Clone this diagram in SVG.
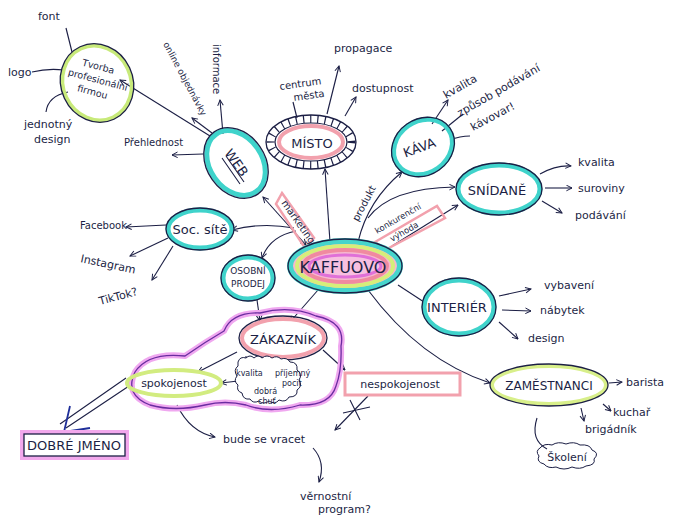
<svg xmlns="http://www.w3.org/2000/svg" width="678" height="518" viewBox="0 0 678 518">
<defs>
<marker id="ah" viewBox="0 0 10 10" refX="9" refY="5" markerWidth="7" markerHeight="7" orient="auto-start-reverse" markerUnits="userSpaceOnUse">
<path d="M1,1 L9,5 L1,9" fill="none" stroke="#1c1f45" stroke-width="1.4"/>
</marker>
<style>
text{font-family:"DejaVu Sans","Liberation Sans",sans-serif;fill:#1c1f45}
.s{font-size:10px}
.m{font-size:11px}
.n{font-size:13px}
.ln{fill:none;stroke:#1c1f45;stroke-width:1.1}
.ar{fill:none;stroke:#1c1f45;stroke-width:1.1;marker-end:url(#ah)}
.cy{fill:none;stroke:#3fd3cb;stroke-width:5}
.bk{fill:none;stroke:#1c1f45;stroke-width:1.3}
</style>
</defs>
<rect width="678" height="518" fill="#ffffff"/>

<g id="connectors">
<path class="ln" d="M66,28 L72,52"/>
<path class="ln" d="M32,72 Q48,68 64,70"/>
<path class="ln" d="M46,112 Q48,96 68,92"/>
<path class="ar" d="M210,136 L120,80"/>
<path class="ar" d="M212,133 L192,118"/>
<path class="ar" d="M223,134 L220,100"/>
<path class="ar" d="M203,154 L172,155"/>
<path class="ln" d="M297,118 L293,102"/>
<path class="ar" d="M327,114 L339,66"/>
<path class="ar" d="M345,116 L356,97"/>
<path class="ar" d="M330,242 L325,169"/>
<path class="ar" d="M432,124 L448,100"/>
<path class="ln" d="M442,131 L463,114"/>
<path class="ln" d="M450,140 Q460,136 470,136"/>
<path class="ar" d="M358,242 Q368,200 402,172"/>
<path class="ar" d="M368,218 Q390,188 455,187"/>
<path class="ar" d="M540,174 Q556,165 571,166"/>
<path class="ar" d="M545,188 L572,188"/>
<path class="ar" d="M542,201 L562,213"/>
<path class="ar" d="M392,246 L458,205"/>
<path class="ar" d="M306,245 L263,197" style="marker-start:url(#ah)"/>
<path class="ar" d="M294,228 Q262,222 232,230"/>
<path class="ar" d="M296,231 Q270,236 262,258"/>
<path class="ar" d="M166,225 L126,227"/>
<path class="ar" d="M168,238 L130,256"/>
<path class="ar" d="M173,246 L152,280"/>
<path class="ar" d="M257,300 L260,321"/>
<path class="ar" d="M318,290 L290,322"/>
<path class="ln" d="M398,285 L424,302"/>
<path class="ar" d="M499,296 L531,289"/>
<path class="ar" d="M502,310 L531,311"/>
<path class="ar" d="M499,322 L518,339"/>
<path class="ar" d="M368,290 Q420,360 490,383"/>
<path class="ar" d="M609,383 L622,382"/>
<path class="ar" d="M603,404 L611,411"/>
<path class="ar" d="M581,408 L584,421"/>
<path class="ln" d="M537,418 Q530,440 547,449"/>
<path class="ar" d="M237,352 L198,372"/>
<path class="ar" d="M246,356 L246,364"/>
<path class="ar" d="M264,357 L261,390"/>
<path class="ar" d="M272,356 L272,368"/>
<path class="ar" d="M238,381 L221,383"/>
<path class="ar" d="M323,350 L345,370"/>
<path fill="none" stroke="#1c1f45" stroke-width="1.1" d="M132,384 L66,428 M126,378 L60,424"/>
<path fill="none" stroke="#1f2f9a" stroke-width="1.8" d="M64,432 L70,406 M64,432 L90,428"/>
<path class="ar" d="M177,405 Q190,432 215,437"/>
<path class="ar" d="M368,396 L335,430"/>
<path class="ln" d="M350,400 L360,420 M343,413 L370,407"/>
<path class="ar" d="M313,448 Q326,462 319,482"/>
</g>

<g id="tvorba">
<ellipse cx="97" cy="83" rx="34" ry="38" transform="rotate(-25 97 83)" fill="none" stroke="#c8ea7a" stroke-width="4"/>
<ellipse cx="97" cy="83" rx="36" ry="40" transform="rotate(-25 97 83)" class="bk"/>
<text transform="rotate(15 97 83)" style="font-size:9.5px"><tspan x="94" y="70" text-anchor="middle">Tvorba</tspan><tspan x="97" y="83" text-anchor="middle">profesionální</tspan><tspan x="95" y="96" text-anchor="middle">firmou</tspan></text>
</g>
<g id="font"><text class="m" x="38" y="20">font</text></g>
<g id="logo"><text class="m" x="8" y="76">logo</text></g>
<g id="jednotny"><text class="m" x="24" y="128">jednotný</text><text class="m" x="34" y="143">design</text></g>

<g id="web">
<ellipse cx="236" cy="163" rx="26" ry="35" transform="rotate(-35 236 163)" class="cy"/>
<ellipse cx="236" cy="163" rx="29" ry="38" transform="rotate(-35 236 163)" class="bk"/>
<text class="n" x="236" y="167" text-anchor="middle" transform="rotate(55 236 163)">WEB</text>
<path class="ln" d="M222,158 L240,184 M226,156 L244,182"/>
</g>
<g id="online"><text x="163" y="44" transform="rotate(62 163 44)" style="font-size:9px">online objednávky</text></g>
<g id="informace"><text class="s" x="213" y="44" transform="rotate(90 213 44)">informace</text></g>
<g id="prehlednost"><text class="s" x="124" y="146">Přehlednost</text></g>

<g id="misto">
<ellipse cx="311" cy="142" rx="45" ry="27" class="bk"/>
<ellipse cx="311" cy="142" rx="40.5" ry="23" fill="none" stroke="#1c1f45" stroke-width="8" stroke-dasharray="1.2 6"/>
<ellipse cx="311" cy="142" rx="36" ry="19" fill="#ffffff" stroke="#1c1f45" stroke-width="1.2"/>
<ellipse cx="311" cy="142" rx="32" ry="16" fill="none" stroke="#f2a1ad" stroke-width="4"/>
<text class="n" x="312" y="148" text-anchor="middle">MÍSTO</text>
</g>
<g id="centrum"><text class="s" x="280" y="90" transform="rotate(-8 280 90)">centrum</text><text class="s" x="294" y="101" transform="rotate(-8 294 101)">města</text></g>
<g id="propagace"><text class="m" x="334" y="52">propagace</text></g>
<g id="dostupnost"><text class="m" x="352" y="92">dostupnost</text></g>

<g id="kava">
<ellipse cx="423" cy="147" rx="31" ry="26" transform="rotate(-35 423 147)" class="cy"/>
<ellipse cx="423" cy="147" rx="33" ry="28" transform="rotate(-35 423 147)" class="bk"/>
<text class="n" x="421" y="152" text-anchor="middle" transform="rotate(-20 421 152)">KÁVA</text>
</g>
<g id="kvalita1"><text class="m" x="446" y="99" transform="rotate(-30 446 99)">kvalita</text></g>
<g id="zpusob"><text class="m" x="460" y="117" transform="rotate(-30 460 117)">způsob podávání</text></g>
<g id="kavovar"><text class="m" x="473" y="131" transform="rotate(-28 473 131)">kávovar!</text></g>

<g id="snidane">
<ellipse cx="499" cy="189" rx="41" ry="24" class="cy"/>
<ellipse cx="499" cy="189" rx="43" ry="26" class="bk"/>
<text class="n" x="497" y="195" text-anchor="middle">SNÍDANĚ</text>
</g>
<g id="kvalita2"><text class="m" x="578" y="166">kvalita</text></g>
<g id="suroviny"><text class="m" x="578" y="192">suroviny</text></g>
<g id="podavani"><text class="m" x="575" y="219">podávání</text></g>

<g id="produkt"><text class="s" x="358" y="222" transform="rotate(-62 358 222)">produkt</text></g>
<g id="konkurencni">
<path d="M375,242 L437,206 L445,218 L385,250 Z" fill="none" stroke="#f2a1ad" stroke-width="2.5"/>
<text x="377" y="234" transform="rotate(-30 377 234)" style="font-size:8.5px">konkurenční</text>
<text x="392" y="242" transform="rotate(-30 392 242)" style="font-size:8.5px">výhoda</text>
</g>
<g id="marketing">
<path d="M282,193 L314,238 L305,248 L276,204 Z" fill="none" stroke="#f2a1ad" stroke-width="2.5"/>
<text class="s" x="281" y="203" transform="rotate(55 281 203)">marketing</text>
</g>

<g id="kaffuovo">
<ellipse cx="345" cy="266" rx="55" ry="25" fill="#f6b8d0" stroke="#45d5cc" stroke-width="6"/>
<ellipse cx="345" cy="266" rx="48" ry="20" fill="none" stroke="#d6ee7a" stroke-width="4"/>
<ellipse cx="345" cy="266" rx="42" ry="16" fill="none" stroke="#f08aa0" stroke-width="4"/>
<ellipse cx="345" cy="266" rx="36" ry="11" fill="#f7c0e0" stroke="#e070d8" stroke-width="3"/>
<ellipse cx="345" cy="266" rx="57" ry="27" class="bk"/>
<text x="343" y="273" text-anchor="middle" style="font-size:16px">KAFFUOVO</text>
</g>

<g id="socsite">
<ellipse cx="200" cy="229" rx="32" ry="19" class="cy"/>
<ellipse cx="200" cy="229" rx="34" ry="21" class="bk"/>
<text class="n" x="200" y="234" text-anchor="middle">Soc. sítě</text>
</g>
<g id="facebook"><text class="s" x="80" y="229">Facebook</text></g>
<g id="instagram"><text class="m" x="80" y="262" transform="rotate(12 80 262)">Instagram</text></g>
<g id="tiktok"><text class="m" x="100" y="305" transform="rotate(-15 100 305)">TikTok?</text></g>

<g id="osobni">
<ellipse cx="248" cy="278" rx="25" ry="21" class="cy"/>
<ellipse cx="248" cy="278" rx="27" ry="23" class="bk"/>
<text x="248" y="274" text-anchor="middle" style="font-size:9px">OSOBNÍ</text>
<text x="248" y="287" text-anchor="middle" style="font-size:9px">PRODEJ</text>
</g>

<g id="interier">
<ellipse cx="459" cy="307" rx="35" ry="27" class="cy"/>
<ellipse cx="459" cy="307" rx="37" ry="29" class="bk"/>
<text class="n" x="457" y="312" text-anchor="middle">INTERIÉR</text>
</g>
<g id="vybaveni"><text class="m" x="544" y="289">vybavení</text></g>
<g id="nabytek"><text class="m" x="540" y="314">nábytek</text></g>
<g id="design"><text class="m" x="528" y="342">design</text></g>

<g id="cloud">
<path d="M135,372 Q148,352 185,356 Q205,342 224,331 Q232,312 260,313 Q290,305 316,316 Q346,322 341,346 Q342,370 336,386 Q330,406 300,405 Q270,414 246,405 Q225,400 205,405 Q175,412 150,405 Q124,395 135,372 Z" fill="none" stroke="#f0a8f0" stroke-width="6"/>
<path d="M135,372 Q148,352 185,356 Q205,342 224,331 Q232,312 260,313 Q290,305 316,316 Q346,322 341,346 Q342,370 336,386 Q330,406 300,405 Q270,414 246,405 Q225,400 205,405 Q175,412 150,405 Q124,395 135,372 Z" fill="none" stroke="#6a2ca0" stroke-width="1.3"/>
</g>

<g id="zakaznik">
<ellipse cx="283" cy="338" rx="41" ry="19" fill="#ffffff" stroke="#f2a1ad" stroke-width="4"/>
<ellipse cx="283" cy="338" rx="44" ry="22" class="bk"/>
<text class="n" x="283" y="344" text-anchor="middle">ZÁKAZNÍK</text>
</g>

<g id="pocit-cloud">
<path d="M238,362 q2,-6 8,-4 q4,-4 8,0 q4,-4 8,0 q5,-4 10,0 q5,-3 9,1 q6,-2 9,3 q8,0 7,8 q6,4 2,10 q4,6 -2,10 q1,7 -8,7 q-3,6 -10,3 q-4,5 -10,1 q-5,4 -10,0 q-6,3 -9,-2 q-7,1 -8,-6 q-6,-2 -4,-8 q-5,-4 -1,-9 q-4,-6 1,-10 Z" fill="#ffffff" stroke="#1c1f45" stroke-width="1"/>
<text x="236" y="376" style="font-size:8px">kvalita</text>
<text x="275" y="376" style="font-size:8px">příjemný</text>
<text x="282" y="386" style="font-size:8px">pocit</text>
<text x="254" y="394" style="font-size:8px">dobrá</text>
<text x="258" y="404" style="font-size:8px">chuť</text>
</g>

<g id="spokojenost">
<ellipse cx="174" cy="383" rx="47" ry="13" fill="none" stroke="#d2ec80" stroke-width="4"/>
<text class="m" x="174" y="387" text-anchor="middle">spokojenost</text>
</g>

<g id="nespokojenost">
<rect x="345" y="373" width="115" height="22" fill="none" stroke="#f2a1ad" stroke-width="3"/>
<text class="m" x="400" y="388" text-anchor="middle">nespokojenost</text>
</g>

<g id="dobre">
<rect x="22" y="432" width="105" height="26" fill="none" stroke="#f2a8ec" stroke-width="4"/>
<rect x="24" y="434" width="101" height="22" class="bk"/>
<text class="n" x="74" y="450" text-anchor="middle">DOBRÉ JMÉNO</text>
</g>

<g id="bude"><text class="m" x="223" y="443">bude se vracet</text></g>
<g id="vernostni"><text class="m" x="300" y="500">věrnostní</text><text class="m" x="318" y="513">program?</text></g>

<g id="zamestnanci">
<ellipse cx="549" cy="385" rx="57" ry="19" fill="none" stroke="#d8ef8a" stroke-width="4"/>
<ellipse cx="549" cy="385" rx="59" ry="21" class="bk"/>
<text x="549" y="390" text-anchor="middle" style="font-size:12px">ZAMĚSTNANCI</text>
</g>
<g id="barista"><text class="m" x="626" y="386">barista</text></g>
<g id="kuchar"><text class="m" x="613" y="416">kuchař</text></g>
<g id="brigadnik"><text class="m" x="585" y="433">brigádník</text></g>
<g id="skoleni">
<path d="M540,448 q4,-5 12,-3 q6,-4 14,-1 q8,-3 14,1 q10,-1 12,5 q8,3 2,9 q2,6 -8,7 q-6,4 -14,1 q-8,4 -16,0 q-8,2 -12,-3 q-8,-2 -5,-8 q-4,-5 1,-8 Z" fill="none" stroke="#1c1f45" stroke-width="1"/>
<text class="m" x="567" y="461" text-anchor="middle">Školení</text>
</g>
</svg>
